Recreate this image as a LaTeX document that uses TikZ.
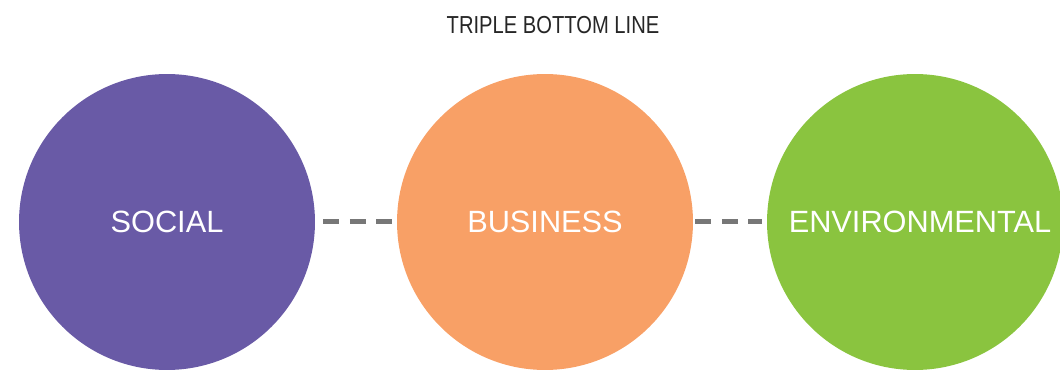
\documentclass[tikz,border=0pt]{standalone}
\usepackage{fontspec}
\setmainfont[FakeStretch=0.82]{Liberation Sans}
\newfontfamily\circfont{Liberation Sans}
\definecolor{socialc}{HTML}{695AA6}
\definecolor{businessc}{HTML}{F8A066}
\definecolor{envc}{HTML}{8AC43F}
\definecolor{linkc}{HTML}{777777}
% labels sit a little below the circle centre
\newcommand{\circlabel}[1]{\raisebox{-0.05cm}{#1}}
\begin{document}
\begin{tikzpicture}
  [x=0.02cm,y=0.02cm,
   every node/.style={circle,minimum size=5.92cm,inner sep=0pt,text=white,font=\circfont\fontsize{17.5}{21}\selectfont},
   link/.style={draw=linkc,line width=0.1cm,dash pattern=on 0.32cm off 0.21cm}]
  \useasboundingbox (0,0) rectangle (1060,371);
  \clip (0,0) rectangle (1060,371);
  \node[fill=socialc] (social) at (167,149) {\circlabel{SOCIAL}};
  \node[fill=businessc] (business) at (545,149) {\circlabel{BUSINESS}};
  \node[fill=envc] (env) at (915,149) {\hspace*{0.2cm}\circlabel{ENVIRONMENTAL}};
  \node[fill=none,rectangle,minimum size=0pt,text=black!85,font=\fontsize{14}{16}\selectfont] (title) at (553,346) {TRIPLE BOTTOM LINE};
  \foreach \from/\to/\a/\b in {social/business/0.16/0.1, business/env/0.04/0.1}
    \draw[link,shorten <=\a cm,shorten >=\b cm] (\from) -- (\to);
\end{tikzpicture}
\end{document}
